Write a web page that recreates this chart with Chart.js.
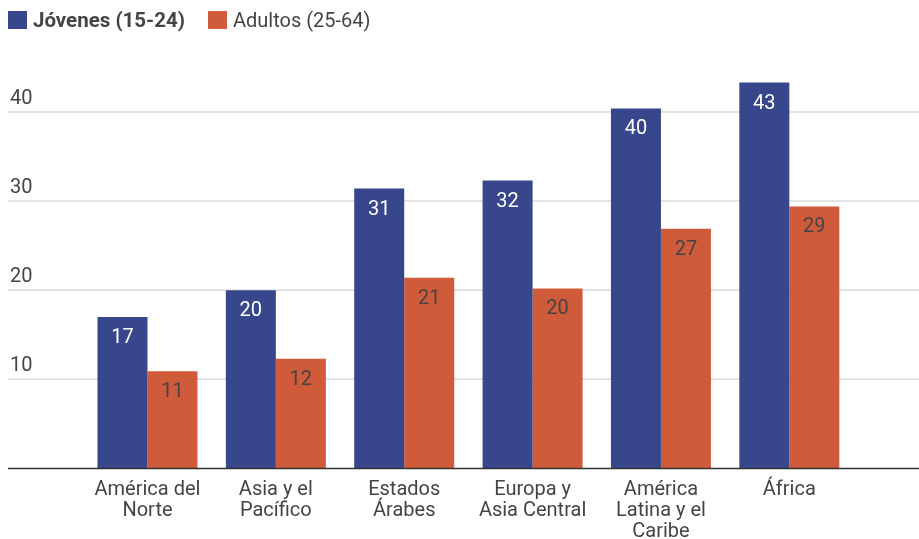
<!DOCTYPE html>
<html>
<head>
<meta charset="utf-8">
<script src="https://cdn.jsdelivr.net/npm/chart.js@4/dist/chart.umd.min.js"></script>
<style>
html,body{margin:0;padding:0;background:#fff;}
#wrap{width:919px;height:539px;}
</style>
</head>
<body>
<div id="wrap"><canvas id="c" width="919" height="539"></canvas></div>
<script>
const categories = [["América del","Norte"],["Asia y el","Pacífico"],["Estados","Árabes"],["Europa y","Asia Central"],["América","Latina y el","Caribe"],["África"]];
const seriesNames = ["Jóvenes (15-24)", "Adultos (25-64)"];
const jovenes = [17.0, 20.0, 31.4, 32.3, 40.4, 43.3];
const adultos = [10.9, 12.3, 21.4, 20.2, 26.9, 29.4];
const yTicks = [10, 20, 30, 40];

const COL_J = '#38468b';
const COL_A = '#d05b3b';
const FONT = 'Roboto, "Open Sans", sans-serif';

const decor = {
  id: 'decor',
  beforeDatasetsDraw(chart) {
    const ctx = chart.ctx, y = chart.scales.y;
    ctx.save();
    ctx.strokeStyle = '#dadada';
    ctx.lineWidth = 1.5;
    ctx.fillStyle = '#444';
    ctx.font = '20px ' + FONT;
    ctx.textAlign = 'left';
    ctx.textBaseline = 'alphabetic';
    yTicks.forEach(v => {
      const py = y.getPixelForValue(v);
      ctx.beginPath();
      ctx.moveTo(8, py);
      ctx.lineTo(chart.width, py);
      ctx.stroke();
      ctx.fillText(String(v), 10, py - 8);
    });
    ctx.restore();
  },
  afterDatasetsDraw(chart) {
    const ctx = chart.ctx, y = chart.scales.y;
    ctx.save();
    const py0 = y.getPixelForValue(0);
    ctx.strokeStyle = '#333';
    ctx.lineWidth = 1.6;
    ctx.beginPath();
    ctx.moveTo(8, py0);
    ctx.lineTo(chart.width, py0);
    ctx.stroke();
    ctx.font = '20px ' + FONT;
    ctx.textAlign = 'center';
    ctx.textBaseline = 'middle';
    chart.data.datasets.forEach((ds, di) => {
      const meta = chart.getDatasetMeta(di);
      meta.data.forEach((bar, i) => {
        ctx.fillStyle = di === 0 ? '#ffffff' : '#444444';
        ctx.fillText(String(Math.round(ds.data[i])), bar.x, bar.y + 21);
      });
    });
    const boxes = [8, 208];
    chart.data.datasets.forEach((ds, di) => {
      const bx = boxes[di];
      ctx.fillStyle = ds.backgroundColor;
      ctx.fillRect(bx, 11, 19, 18);
      ctx.fillStyle = '#444';
      ctx.font = (di === 0 ? 'bold 20.5px ' : '20px ') + FONT;
      ctx.textAlign = 'left';
      ctx.textBaseline = 'alphabetic';
      ctx.fillText(ds.label, bx + 25, 27);
    });
    ctx.restore();
  }
};

new Chart(document.getElementById('c'), {
  type: 'bar',
  data: {
    labels: categories,
    datasets: [
      { label: seriesNames[0], data: jovenes, backgroundColor: COL_J },
      { label: seriesNames[1], data: adultos, backgroundColor: COL_A }
    ]
  },
  options: {
    responsive: false,
    animation: false,
    devicePixelRatio: 1,
    layout: { padding: { left: 83.3, right: 65.5, top: 67.4, bottom: 0 } },
    datasets: { bar: { categoryPercentage: 0.779, barPercentage: 1.0 } },
    plugins: { legend: { display: false }, tooltip: { enabled: false } },
    scales: {
      x: {
        grid: { display: false, drawTicks: false },
        border: { display: false },
        ticks: { color: '#444', font: { family: FONT, size: 20, lineHeight: 1.05 }, padding: 11, maxRotation: 0, autoSkip: false },
        afterFit(s) { s.height = 70.5; }
      },
      y: {
        display: false,
        min: 0,
        max: 45
      }
    }
  },
  plugins: [decor]
});
</script>
</body>
</html>
